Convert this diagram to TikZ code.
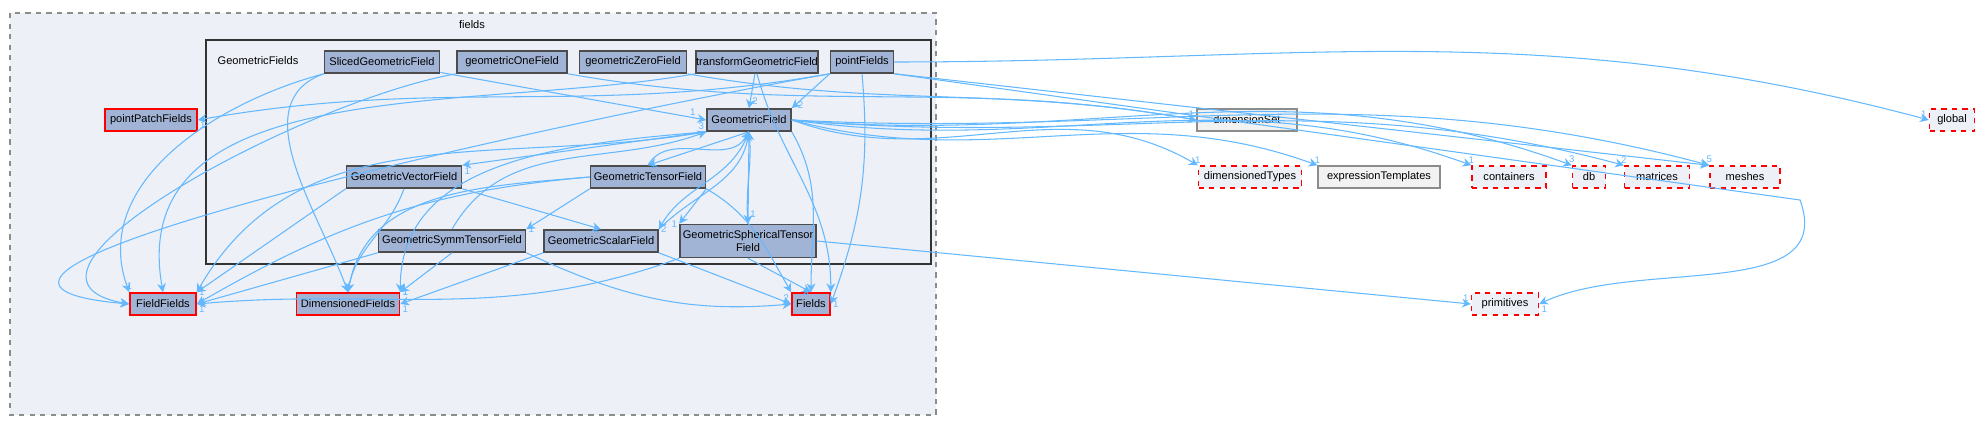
\documentclass[tikz,border=0pt]{standalone}
\usepackage{fontspec}
\setmainfont{Liberation Sans}
\usetikzlibrary{arrows.meta}
\definecolor{dirfill}{HTML}{A2B4D6}
\definecolor{clusterfill}{HTML}{EDF0F7}
\definecolor{edgeblue}{HTML}{63B8FF}
\tikzset{
  dir/.style={draw=black!70,fill=dirfill,line width=0.9pt,inner sep=0pt,minimum height=0.44cm,font=\fontsize{6.3}{7}\selectfont,align=center},
  red dir/.style={dir,draw=red,line width=0.9pt},
  ext dir/.style={draw=red,dashed,fill=clusterfill,line width=0.8pt,inner sep=0pt,minimum height=0.44cm,font=\fontsize{6.3}{7}\selectfont},
  plain dir/.style={draw=black!45,fill=black!5,line width=0.8pt,inner sep=0pt,minimum height=0.44cm,font=\fontsize{6.3}{7}\selectfont},
  dep/.style={draw=edgeblue,line width=0.6pt,-{Stealth[length=5pt,width=5pt]}},
  num/.style={text=edgeblue,font=\fontsize{5.5}{6}\selectfont,inner sep=1pt}
}
\begin{document}
\begin{tikzpicture}[x=0.02cm,y=0.02cm]
  \useasboundingbox (0,0) rectangle (1986,-425);
  % clusters
  \draw[dashed,draw=black!45,fill=clusterfill,line width=0.7pt] (10,-13) rectangle (936,-415);
  \node[font=\fontsize{6.3}{7}\selectfont] (lfields) at (472,-25) {fields};
  \draw[draw=black!80,line width=1.3pt,fill=clusterfill] (206,-40) rectangle (931,-264);
  \node[font=\fontsize{6.3}{7}\selectfont] (lgeom) at (258,-61) {GeometricFields};
  % nodes
  \node[dir,minimum width=2.3cm] (sliced) at (382,-62) {SlicedGeometricField};
  \node[dir,minimum width=2.2cm] (one) at (512,-62) {geometricOneField};
  \node[dir,minimum width=2.14cm] (zero) at (633,-62) {geometricZeroField};
  \node[dir,minimum width=2.42cm] (transform) at (757,-62) {transformGeometricField};
  \node[dir,minimum width=1.26cm] (point) at (862,-62) {pointFields};
  \node[dir,minimum width=1.68cm] (geo) at (749,-120) {GeometricField};
  \node[red dir,minimum width=1.84cm] (ppf) at (151,-120) {pointPatchFields};
  \node[dir,minimum width=2.3cm] (vector) at (404,-177) {GeometricVectorField};
  \node[dir,minimum width=2.3cm] (tensor) at (648,-177) {GeometricTensorField};
  \node[dir,minimum width=2.94cm] (symm) at (452,-241) {GeometricSymmTensorField};
  \node[dir,minimum width=2.28cm] (scalar) at (601,-241) {GeometricScalarField};
  \node[dir,minimum width=2.72cm,minimum height=0.66cm] (sph) at (748,-241) {GeometricSphericalTensor\\Field};
  \node[red dir,minimum width=1.32cm] (ff) at (163,-304) {FieldFields};
  \node[red dir,minimum width=2.06cm] (dimf) at (348,-304) {DimensionedFields};
  \node[red dir,minimum width=0.76cm] (fields) at (811,-304) {Fields};
  \node[plain dir,minimum width=2cm] (dimset) at (1247,-120) {dimensionSet};
  \node[ext dir,minimum width=0.9cm] (global) at (1952,-120) {global};
  \node[ext dir,minimum width=2.06cm] (dimtypes) at (1250,-177) {dimensionedTypes};
  \node[plain dir,minimum width=2.44cm] (expr) at (1379,-177) {expressionTemplates};
  \node[ext dir,minimum width=1.48cm] (cont) at (1509,-177) {containers};
  \node[ext dir,minimum width=0.66cm] (db) at (1589,-177) {db};
  \node[ext dir,minimum width=1.3cm] (mat) at (1657,-177) {matrices};
  \node[ext dir,minimum width=1.4cm] (mesh) at (1745,-177) {meshes};
  \node[ext dir,minimum width=1.34cm] (prim) at (1505,-304) {primitives};
  \coordinate (bendprim) at (1800,-200);
  % top row
  \draw[dep] (sliced) -- (geo.west) node[num,pos=0.95,above] {1};
  \draw[dep] (sliced.south west) to[out=195,in=110] (ff.north west) node[num,above] {1};
  \draw[dep] (sliced.south west) to[out=200,in=110] (dimf.north);
  \draw[dep] (one.south west) to[out=190,in=170] (ff.west);
  \draw[dep] (one.south east) to[out=-10,in=170] (dimset.west) node[num,above left] {1};
  \draw[dep] (zero.south east) to[out=-10,in=170] (dimset.west);
  \draw[dep] (transform) -- (geo.north) node[num,pos=0.8,right] {2};
  \draw[dep] (transform.south) to[out=-75,in=90] (fields.north east);
  \draw[dep] (transform.south west) to[out=190,in=100] (ff.north);
  \draw[dep] (point.south west) -- (geo.north east) node[num,pos=0.9,right] {2};
  \draw[dep] (point.south west) to[out=190,in=10] (ppf.east) node[num,below right] {1};
  \draw[dep] (point.south) to[out=-85,in=70] (fields.east) node[num,right] {1};
  \draw[dep] (point.east) to[out=0,in=165] (global.west) node[num,above left] {1};
  \draw[dep] (point.south east) -- (mesh.north west);
  \draw[dep] (point.south east) -- (bendprim) to[out=-70,in=25] (prim.east) node[num,below right] {1};
  \draw[dep] (point.south west) to[out=190,in=175] (ff.west);
  % GeometricField
  \draw[dep] (geo.south west) -- (vector.north east) node[num,below right] {1};
  \draw[dep] (geo.south) -- (tensor.north) node[num,right] {1};
  \draw[dep] (geo.south) to[out=-110,in=60] (scalar.north east) node[num,right] {2};
  \draw[dep] (geo.south) -- (sph.north) node[num,pos=0.9,right] {1};
  \draw[dep] (geo.south east) to[out=-60,in=90] (fields.north) node[num,left] {3};
  \draw[dep] (geo.south west) to[out=190,in=60] (ff.north east) node[num,right] {1};
  \draw[dep] (geo.south west) to[out=185,in=90] (dimf.north east) node[num,right] {1};
  \draw[dep] (geo.east) to[out=-20,in=150] (dimtypes.north west) node[num,above] {1};
  \draw[dep] (geo.east) to[out=-15,in=160] (expr.north west) node[num,above] {1};
  \draw[dep] (geo.east) to[out=-8,in=160] (cont.north west) node[num,above] {1};
  \draw[dep] (geo.east) to[out=-5,in=160] (db.north west) node[num,above] {3};
  \draw[dep] (geo.east) to[out=-5,in=165] (mat.north west) node[num,above] {2};
  \draw[dep] (geo.east) to[out=-3,in=165] (mesh.north west) node[num,above] {5};
  % second row
  \draw[dep] (tensor.north) to[out=60,in=-120] (geo.south) node[num,pos=0.9,left] {2};
  \draw[dep] (tensor.south west) -- (symm.north east) node[num,right] {1};
  \draw[dep] (tensor.south east) -- (sph.north west) node[num,left] {1};
  \draw[dep] (tensor.south east) to[out=-30,in=120] (fields.north west);
  \draw[dep] (tensor.west) to[out=185,in=30] (ff.east);
  \draw[dep] (tensor.west) to[out=185,in=80] (dimf.north);
  \draw[dep] (vector.south east) -- (scalar.north) node[num,left] {1};
  \draw[dep] (vector.south west) -- (ff.north east);
  \draw[dep] (vector.south) to[out=-110,in=80] (dimf.north);
  % third row
  \draw[dep] (symm.north) to[out=60,in=200] (geo.south west) node[num,above left] {3};
  \draw[dep] (symm.south west) -- (ff.east) node[num,below right] {1};
  \draw[dep] (symm.south) -- (dimf.north east) node[num,right] {1};
  \draw[dep] (symm.south east) to[out=-25,in=185] (fields.west) node[num,above left] {2};
  \draw[dep] (scalar.north east) to[out=45,in=-100] (geo.south);
  \draw[dep] (scalar.south west) -- (dimf.east) node[num,below right] {1};
  \draw[dep] (scalar.south east) -- (fields.west);
  \draw[dep] (sph.north) to[out=95,in=-85] (geo.south) node[num,pos=0.9,left] {8};
  \draw[dep] (sph.south west) to[out=-160,in=5] (ff.east);
  \draw[dep] (sph.south) -- (fields.north) node[num,left] {2};
  \draw[dep] (sph.east) -- (prim.west) node[num,above left] {1};
\end{tikzpicture}
\end{document}
